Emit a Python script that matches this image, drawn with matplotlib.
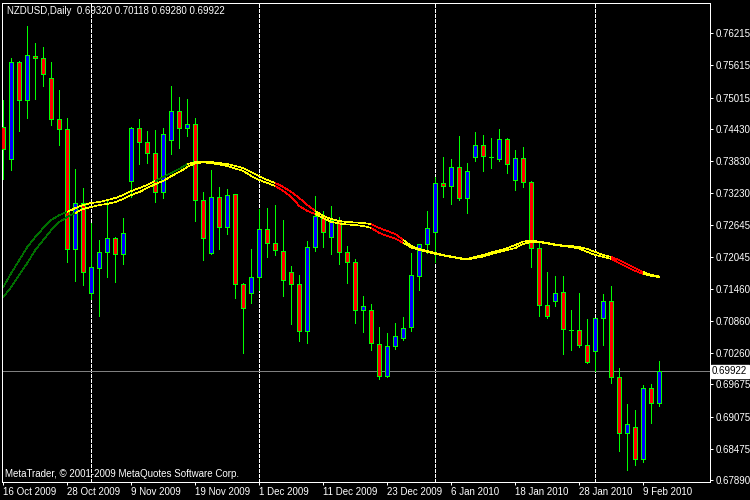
import matplotlib
matplotlib.use('Agg')
import matplotlib.pyplot as plt
from matplotlib.collections import LineCollection
import numpy as np
import pandas as pd

# NZDUSD daily, 16 Oct 2009 - 11 Feb 2010 (prices)
title_text = 'NZDUSD,Daily  0.69320 0.70118 0.69280 0.69922'
footer_text = 'MetaTrader, \u00a9 2001-2009 MetaQuotes Software Corp.'

holidays = ['2009-12-25', '2010-01-01']
dates = pd.bdate_range('2009-10-16', '2010-02-11')
dates = dates[~dates.isin(pd.to_datetime(holidays))]

opens = [0.74474, 0.73866, 0.75673, 0.74965, 0.75785, 0.75748, 0.75375, 0.74611, 0.74425, 0.72190,
         0.73047, 0.71382, 0.71847, 0.72134, 0.72395, 0.72097, 0.73457, 0.74444, 0.74183, 0.73978,
         0.73252, 0.74220, 0.74760, 0.74444, 0.74518, 0.73103, 0.72116, 0.73159, 0.72600, 0.73215,
         0.71538, 0.71371, 0.71669, 0.72563, 0.72302, 0.72153, 0.71762, 0.71538, 0.70663, 0.72227,
         0.72805, 0.72414, 0.72730, 0.72134, 0.71948, 0.71054, 0.71054, 0.70421, 0.69825, 0.70383,
         0.70533, 0.70737, 0.71687, 0.72283, 0.72507, 0.73419, 0.73364, 0.73717, 0.73140, 0.73904,
         0.74127, 0.73909, 0.73878, 0.74239, 0.73475, 0.73885, 0.73438, 0.72209, 0.71147, 0.71222,
         0.71389, 0.70693, 0.70682, 0.70402, 0.70290, 0.70905, 0.71222, 0.69806, 0.68763, 0.68875,
         0.68279, 0.69601, 0.69320]
highs = [0.74971, 0.75748, 0.75703, 0.76349, 0.76032, 0.75958, 0.75679, 0.75157, 0.74636, 0.73686,
         0.73332, 0.72680, 0.72363, 0.73108, 0.72425, 0.72779, 0.74474, 0.74617, 0.74393, 0.74412,
         0.74444, 0.75232, 0.75027, 0.74990, 0.74630, 0.73252, 0.73667, 0.73351, 0.73313, 0.73225,
         0.71562, 0.72196, 0.72935, 0.72959, 0.73015, 0.72730, 0.71879, 0.71706, 0.72345, 0.73183,
         0.72898, 0.72991, 0.72786, 0.72246, 0.72004, 0.71315, 0.71166, 0.70737, 0.70626, 0.70812,
         0.70924, 0.72116, 0.72283, 0.72898, 0.73531, 0.73904, 0.73866, 0.74295, 0.73792, 0.74369,
         0.74313, 0.74257, 0.74425, 0.74257, 0.74034, 0.74090, 0.73468, 0.72302, 0.71762, 0.71687,
         0.71687, 0.71054, 0.71371, 0.70886, 0.70905, 0.71352, 0.71501, 0.69974, 0.69303, 0.69192,
         0.69657, 0.69676, 0.70118]
lows = [0.73505, 0.73667, 0.74399, 0.74641, 0.74990, 0.75237, 0.74511, 0.74138, 0.71959, 0.71605,
        0.71525, 0.71270, 0.70953, 0.71680, 0.71587, 0.71922, 0.73170, 0.73773, 0.73803, 0.73077,
        0.73151, 0.73971, 0.74082, 0.74306, 0.72723, 0.71996, 0.72100, 0.72201, 0.72481, 0.71289,
        0.70253, 0.71184, 0.71432, 0.72041, 0.72078, 0.71326, 0.70804, 0.70477, 0.70439, 0.72153,
        0.72227, 0.72108, 0.71911, 0.71557, 0.70823, 0.70641, 0.70309, 0.69769, 0.69806, 0.70328,
        0.70495, 0.70674, 0.71426, 0.72116, 0.71948, 0.73159, 0.73028, 0.73103, 0.72861, 0.73829,
        0.73643, 0.73710, 0.73840, 0.73606, 0.73289, 0.73345, 0.71855, 0.70953, 0.70905, 0.71129,
        0.70235, 0.70309, 0.70365, 0.70067, 0.69924, 0.70402, 0.69694, 0.68428, 0.68074, 0.68167,
        0.68223, 0.68949, 0.69280]
closes = [0.74053, 0.75673, 0.74965, 0.75803, 0.75748, 0.75450, 0.74611, 0.74425, 0.72190, 0.73047,
          0.71773, 0.71855, 0.72134, 0.72395, 0.72097, 0.72488, 0.74444, 0.74183, 0.73978, 0.73252,
          0.74332, 0.74760, 0.74444, 0.74518, 0.73103, 0.72395, 0.73159, 0.72600, 0.73196, 0.71538,
          0.71091, 0.71669, 0.72563, 0.72302, 0.72172, 0.71613, 0.71538, 0.70663, 0.72227, 0.72805,
          0.72507, 0.72730, 0.72134, 0.71948, 0.71054, 0.71129, 0.70439, 0.69825, 0.70383, 0.70570,
          0.70719, 0.71706, 0.72283, 0.72581, 0.73419, 0.73364, 0.73717, 0.73140, 0.73643, 0.74127,
          0.73922, 0.73909, 0.74239, 0.73773, 0.73885, 0.73438, 0.72209, 0.71147, 0.70942, 0.71371,
          0.70700, 0.70693, 0.70402, 0.70086, 0.70905, 0.71222, 0.69806, 0.68763, 0.68931, 0.68279,
          0.69601, 0.69322, 0.69922]

# two moving averages drawn by the chart's indicator, and their trend state (1 up, 0 flat, -1 down)
ma_fast = [0.71488, 0.71749, 0.71991, 0.72233, 0.72419, 0.72587, 0.72736, 0.72829, 0.72885, 0.72959,
           0.73015, 0.73053, 0.73071, 0.73108, 0.73146, 0.73202, 0.73276, 0.73332, 0.73388, 0.73462,
           0.73537, 0.73611, 0.73686, 0.73779, 0.73816, 0.73825, 0.73816, 0.73797, 0.73779, 0.73742,
           0.73704, 0.73630, 0.73555, 0.73481, 0.73425, 0.73351, 0.73257, 0.73146, 0.73015, 0.72904,
           0.72810, 0.72755, 0.72717, 0.72699, 0.72689, 0.72680, 0.72661, 0.72587, 0.72531, 0.72475,
           0.72363, 0.72252, 0.72196, 0.72159, 0.72121, 0.72084, 0.72056, 0.72028, 0.72010, 0.72047,
           0.72084, 0.72131, 0.72168, 0.72214, 0.72270, 0.72336, 0.72345, 0.72336, 0.72308, 0.72280,
           0.72261, 0.72252, 0.72233, 0.72196, 0.72140, 0.72084, 0.72047, 0.71991, 0.71916, 0.71842,
           0.71767, 0.71712, 0.71684]
ma_slow = [0.71302, 0.71488, 0.71712, 0.71935, 0.72177, 0.72363, 0.72550, 0.72699, 0.72792, 0.72866,
           0.72941, 0.72978, 0.73015, 0.73034, 0.73071, 0.73127, 0.73202, 0.73257, 0.73332, 0.73406,
           0.73462, 0.73555, 0.73630, 0.73723, 0.73797, 0.73807, 0.73797, 0.73770, 0.73742, 0.73695,
           0.73649, 0.73555, 0.73481, 0.73425, 0.73369, 0.73276, 0.73164, 0.72997, 0.72904, 0.72848,
           0.72773, 0.72699, 0.72671, 0.72652, 0.72643, 0.72624, 0.72587, 0.72494, 0.72438, 0.72391,
           0.72308, 0.72224, 0.72177, 0.72140, 0.72103, 0.72075, 0.72047, 0.72019, 0.72000, 0.72028,
           0.72056, 0.72103, 0.72140, 0.72177, 0.72214, 0.72289, 0.72326, 0.72326, 0.72298, 0.72270,
           0.72252, 0.72233, 0.72205, 0.72140, 0.72084, 0.72047, 0.72010, 0.71935, 0.71860, 0.71786,
           0.71730, 0.71693, 0.71674]
fast_state = [1, 1, 1, 1, 1, 1, 1, 1, 1, 0, 0, 0, 0, 0, 0, 0, 0, 0, 0, 0,
              1, 1, 1, 1, 0, 0, 0, 0, 0, 0, 0, 0, 0, 0, 0, -1, -1, -1, -1, -1,
              0, 0, 0, 0, 0, 0, 0, -1, -1, -1, -1, 0, 0, 0, 0, 0, 0, 0, 0, 0,
              0, 0, 0, 0, 0, 0, 0, 0, 0, 0, 0, 0, 0, 0, 0, 0, 0, -1, -1, -1,
              -1, 0, 0]
slow_state = [1, 1, 1, 1, 1, 1, 1, 1, 1, 1, 0, 0, 0, 0, 0, 0, 0, 0, 0, 0,
              0, 0, 0, 0, 0, 0, 0, 0, 0, 0, 0, 0, 0, 0, 0, -1, -1, -1, -1, -1,
              0, 0, 0, 0, 0, 0, 0, -1, -1, -1, -1, 0, 0, 0, 0, 0, 0, 0, 0, 0,
              0, 0, 0, 0, 0, 0, 0, 0, 0, 0, 0, 0, 0, 0, 0, 0, 0, -1, -1, -1,
              -1, 0, 0]

price_ticks = [0.76215, 0.75615, 0.75015, 0.74430, 0.73830, 0.73230, 0.72645, 0.72045,
               0.71460, 0.70860, 0.70260, 0.69675, 0.69075, 0.68475, 0.67890]
bid_price = 0.69922

# ---- drawing ----
plt.rcParams['font.family'] = ['Liberation Sans', 'DejaVu Sans']
PX = 0.72  # one pixel in points at dpi 100

o, h, l, c = (np.array(v) for v in (opens, highs, lows, closes))
x = np.arange(len(o))

fig = plt.figure(figsize=(7.5, 5), dpi=100, facecolor='black')
ax = fig.add_axes([2 / 750, 18 / 500, 708 / 750, 479 / 500])
ax.set_facecolor('black')
ax.set_xlim(-0.1625, 88.34)
ax.set_ylim(0.678561, 0.767775)

# period separators at the first bar of each month
month_start = [i for i in range(1, len(dates)) if dates[i].month != dates[i - 1].month]
for i in month_start:
    ax.axvline(i, color='white', lw=PX, ls=(0, (3, 2)), zorder=1, antialiased=False)

ax.axhline(bid_price, color='#7f7f7f', lw=PX, zorder=1, antialiased=False)

# candles
bull = c >= o
ax.vlines(x, l, h, color='#00ff00', lw=PX, zorder=3, antialiased=False)
ax.bar(x, np.abs(c - o), bottom=np.minimum(o, c), width=0.5,
       color=np.where(bull, '#0000ff', '#ff0000'), edgecolor='#00ff00',
       linewidth=PX, zorder=4, antialiased=False)

# coloured moving averages, thin aliased lines like the terminal draws them
state_colors = {1: '#007000', 0: '#ffff00', -1: '#ff0000'}
for vals, states in ((ma_slow, slow_state), (ma_fast, fast_state)):
    pts = np.column_stack([x, vals])
    segs = np.stack([pts[:-1], pts[1:]], axis=1)
    lc = LineCollection(segs, colors=[state_colors[s] for s in states[1:]],
                        linewidths=0.45, zorder=5, antialiased=False)
    ax.add_collection(lc)

# axes, ticks
for sp in ax.spines.values():
    sp.set_color('white')
    sp.set_linewidth(PX)

ax.yaxis.tick_right()
ax.set_yticks(price_ticks)
ax.set_yticklabels([f'{p:.5f}' for p in price_ticks])
ax.tick_params(axis='y', colors='white', direction='out', length=2.2, width=PX,
               pad=1.5, labelsize=7)

label_idx = x[::8]
ax.set_xticks(label_idx)
ax.set_xticklabels([f'{dates[i].day} {dates[i]:%b %Y}' for i in label_idx], ha='left')
ax.tick_params(axis='x', colors='white', direction='out', length=2.2, width=PX,
               pad=1.2, labelsize=7)

ax.text(1.003, bid_price, f'{bid_price:.5f}', transform=ax.get_yaxis_transform(),
        color='black', fontsize=7, ha='left', va='center', zorder=10, clip_on=False,
        bbox=dict(boxstyle='square,pad=0.15', fc='white', ec='white'))

fig.text(7 / 750, 1 - 10.5 / 500, title_text, color='white', fontsize=7, va='center')
fig.text(5 / 750, 1 - 474 / 500, footer_text, color='white', fontsize=7, va='center')

fig.savefig('out.png', dpi=100, facecolor='black')
plt.close(fig)
